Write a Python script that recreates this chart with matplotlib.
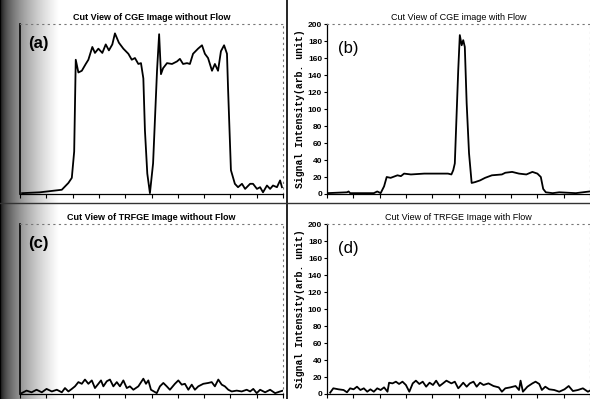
import numpy as np
import matplotlib
matplotlib.use("Agg")
import matplotlib.pyplot as plt
from matplotlib.lines import Line2D

# (a) Cut View of CGE Image without Flow
a_x = [0.8, 7.6, 15.9, 18.4, 19.7, 20.6, 21.2, 22.2, 23.5, 25.0, 26.0, 27.5, 28.5, 29.8,
       31.3, 32.6, 33.8, 35.1, 36.1, 37.6, 39.3, 41.2, 42.5, 43.7, 45.0, 46.0, 46.9, 47.5,
       48.4, 49.4, 50.6, 52.1, 52.9, 53.6, 54.4, 55.9, 57.8, 59.7, 60.8, 62.0, 63.5, 64.6,
       65.8, 67.7, 69.2, 70.3, 71.5, 73.0, 74.1, 75.3, 76.4, 77.6, 78.7, 79.1, 80.2, 81.7,
       82.9, 84.4, 85.6, 87.5, 88.6, 90.1, 91.3, 92.4, 93.9, 95.1, 96.2, 97.7, 98.9, 99.6]
a_y = [1, 2, 5, 13, 19, 50, 158, 143, 145, 153, 158, 173, 166, 171,
       166, 176, 169, 176, 189, 178, 171, 165, 158, 160, 153, 154, 136, 75,
       24, 1, 36, 145, 188, 141, 148, 154, 153, 156, 159, 153, 154, 153,
       165, 171, 175, 165, 160, 145, 153, 145, 168, 175, 165, 125, 28, 12,
       8, 12, 6, 12, 12, 6, 8, 2, 10, 6, 10, 8, 16, 8]

# (b) Cut View of CGE image with Flow
b_x = [0.0, 7.6, 8.2, 8.8, 17.8, 19.1, 20.4, 21.7, 22.7, 24.2, 26.8, 28.1, 29.3, 31.9,
       37.0, 42.2, 46.0, 47.3, 48.0, 48.6, 49.2, 49.9, 50.5, 51.2, 51.8, 52.4, 53.1, 54.0,
       55.0, 56.3, 58.2, 60.1, 62.7, 66.5, 67.8, 70.4, 73.0, 75.8, 78.1, 80.0, 81.3, 82.2,
       83.2, 85.8, 88.3, 94.6, 99.9]
b_y = [1, 2, 3, 1, 1, 3, 1, 9, 20, 19, 22, 21, 24, 23,
       24, 24, 24, 23, 28, 36, 87, 146, 187, 175, 181, 173, 107, 48,
       13, 14, 16, 19, 22, 23, 25, 26, 24, 23, 26, 24, 20, 6,
       2, 1, 2, 1, 3]

# (c) Cut View of TRFGE Image without Flow
c_x = [0.6, 2.5, 4.4, 6.3, 8.3, 10.1, 12.1, 14.0, 15.9, 17.1, 18.4, 19.7, 20.9, 22.2,
       23.5, 24.7, 26.0, 27.3, 28.5, 29.8, 30.8, 31.7, 33.0, 34.2, 35.5, 36.8, 38.0, 39.3,
       40.6, 41.8, 43.1, 45.0, 46.9, 47.9, 48.8, 49.8, 52.0, 53.2, 54.5, 55.8, 57.0, 58.9,
       60.2, 61.5, 62.7, 64.0, 65.3, 66.5, 67.8, 69.7, 71.6, 72.9, 74.1, 75.4, 76.7, 77.9,
       79.2, 80.5, 82.4, 84.3, 86.2, 87.5, 88.7, 90.0, 91.3, 93.2, 95.1, 97.0, 98.9, 100.0]
c_y = [1, 4, 2, 5, 2, 6, 3, 5, 2, 7, 3, 6, 9, 14,
       12, 17, 12, 16, 7, 12, 16, 9, 15, 17, 9, 14, 9, 16,
       7, 9, 5, 9, 18, 12, 16, 5, 1, 9, 13, 9, 5, 12,
       16, 11, 12, 5, 11, 5, 9, 12, 13, 14, 9, 17, 11, 9,
       5, 3, 4, 3, 5, 3, 6, 1, 5, 2, 5, 1, 3, 4]

# (d) Cut View of TRFGE Image with Flow
d_x = [1.2, 2.4, 4.4, 6.3, 7.6, 8.8, 10.1, 11.4, 12.7, 14.0, 15.3, 16.5, 17.8, 19.1,
       20.4, 21.7, 23.0, 23.6, 24.9, 26.2, 27.4, 28.7, 30.0, 31.3, 32.6, 33.8, 35.1, 36.4,
       37.7, 39.0, 40.3, 41.5, 42.8, 44.1, 45.4, 47.3, 48.6, 49.9, 50.5, 51.8, 53.1, 54.3,
       55.7, 56.9, 58.2, 59.5, 61.4, 63.3, 65.3, 66.5, 67.8, 69.7, 71.7, 73.0, 73.6, 74.5,
       76.2, 78.1, 79.3, 80.7, 81.7, 83.0, 84.5, 86.4, 88.3, 90.3, 91.9, 93.5, 95.4, 97.3,
       99.2, 100.0]
d_y = [1.6, 6.7, 5.5, 4.7, 2.0, 6.7, 5.5, 8.6, 4.7, 6.7, 2.7, 5.5, 2.7, 6.7,
       4.7, 7.8, 2.7, 13.3, 12.5, 14.5, 11.8, 14.5, 10.6, 2.7, 12.5, 15.7, 11.8, 14.5,
       8.6, 13.3, 10.6, 15.7, 9.4, 12.5, 15.7, 12.5, 14.5, 6.7, 8.6, 13.3, 8.6, 12.5,
       14.5, 8.6, 13.3, 10.6, 12.5, 9.4, 7.8, 2.7, 6.7, 7.8, 9.4, 4.7, 15.7, 2.7,
       8.6, 12.5, 14.5, 11.8, 4.7, 8.6, 5.5, 4.7, 2.7, 5.5, 9.4, 3.5, 4.7, 6.7,
       2.7, 4.0]

titles = ["Cut View of CGE Image without Flow", "Cut View of CGE image with Flow",
          "Cut View of TRFGE Image without Flow", "Cut View of TRFGE Image with Flow"]
tags = ["(a)", "(b)", "(c)", "(d)"]
ylabel = "Signal Intensity(arb. unit)"

plt.rcParams['font.family'] = ['Liberation Sans', 'DejaVu Sans']

fig = plt.figure(figsize=(5.9, 3.99), dpi=100)

# scanned page: dark smudge along the left edge
bg = fig.add_axes([0, 0, 0.1, 1], zorder=-5)
shade = np.linspace(0.0, 1.0, 60) ** 0.5
bg.imshow(np.tile(shade, (40, 1)), cmap='gray', vmin=0, vmax=1, aspect='auto',
          extent=[0, 1, 0, 1])
bg.set_axis_off()

w = 263 / 590
h = 0.426
pos = [[20 / 590, 1 - 194 / 399, w, h],
       [327 / 590, 1 - 194 / 399, w, h],
       [20 / 590, 1 - 394 / 399, w, h],
       [327 / 590, 1 - 394 / 399, w, h]]
series = [(a_x, a_y), (b_x, b_y), (c_x, c_y), (d_x, d_y)]

for i in range(4):
    ax = fig.add_axes(pos[i])
    ax.patch.set_alpha(0)
    xs, ys = series[i]
    ax.plot(xs, ys, color='black', lw=1.3)
    ax.set_xlim(0, 100)
    ax.set_ylim(0, 200)
    ax.set_xticks(np.arange(0, 101, 10))
    ax.set_xticklabels([])
    ax.set_yticks(np.arange(0, 201, 20))
    ax.tick_params(axis='x', direction='out', length=3, width=0.8)
    ax.tick_params(axis='y', direction='out', length=2, width=0.8, labelsize=6, pad=1.5)
    for s in ['top', 'right']:
        ax.spines[s].set_linestyle((0, (1, 4)))
        ax.spines[s].set_color('#777777')
        ax.spines[s].set_linewidth(0.8)
    ax.spines['bottom'].set_linewidth(0.9)
    ax.spines['left'].set_linewidth(1.2 if i % 2 == 0 else 0.9)
    if i % 2 == 0:
        ax.set_yticklabels([])
        ax.tick_params(axis='y', length=0)
        ax.set_title(titles[i], fontsize=6.5, fontweight='bold', pad=3)
        ax.text(0.03, 0.86, tags[i], transform=ax.transAxes, fontsize=12,
                fontweight='bold')
    else:
        for lab in ax.get_yticklabels():
            lab.set_fontweight('bold')
        ax.set_title(titles[i], fontsize=6.5, pad=3)
        ax.set_ylabel(ylabel, family=['Liberation Mono', 'DejaVu Sans Mono'],
                      fontweight='bold', fontsize=7, labelpad=2)
        ax.text(0.04, 0.83, tags[i], transform=ax.transAxes, fontsize=12)

# page cut lines between the four scanned panels
fig.add_artist(Line2D([287 / 590, 287 / 590], [0, 1], color='black', lw=1.2))
fig.add_artist(Line2D([0, 1], [1 - 203 / 399, 1 - 203 / 399], color='#333333', lw=1.0))

fig.savefig("out.png", dpi=100)
